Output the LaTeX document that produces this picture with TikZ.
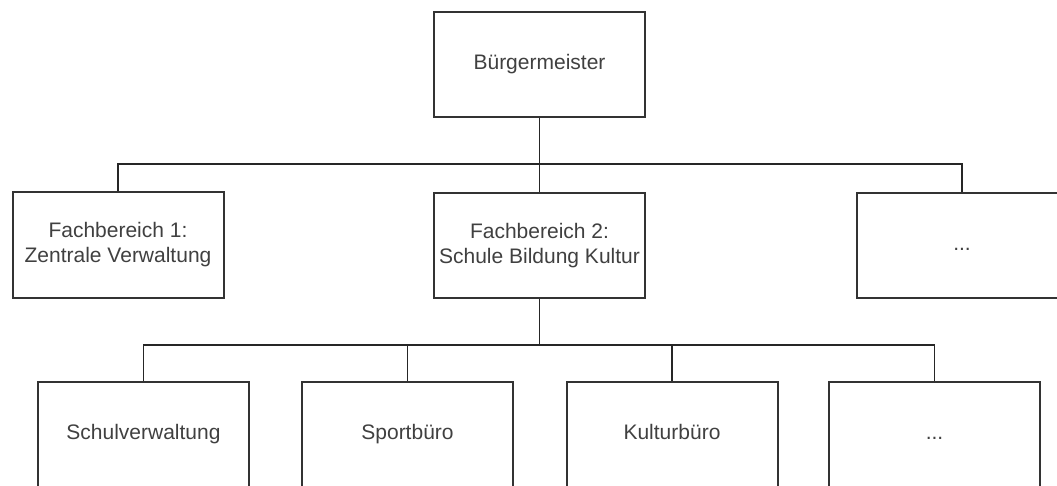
\documentclass[tikz,border=0pt]{standalone}
\usepackage{fontspec}
\setmainfont{Liberation Sans}
\usetikzlibrary{calc}
\tikzset{
  every picture/.style={
    line width=2pt
  },
  unit/.style={
    draw=black!80, rectangle, minimum width=211pt, minimum height=105pt,
    inner sep=0pt, align=center, text=black!75,
    font=\fontsize{21}{25}\selectfont
  },
  oneline/.style={
    unit, text height=15pt, text depth=4.5pt
  },
  link/.style={
    draw=black!85, line width=1.8pt
  }
}

\begin{document}
\begin{tikzpicture}[x=1pt,y=-1pt]
      \useasboundingbox (0,0) rectangle (1057,486);
      \node[oneline] (bgm) at (539.5,64.5) {Bürgermeister};
      \node[unit] (fb1) at (118,245) {Fachbereich 1:\\Zentrale Verwaltung};
      \node[unit] (fb2) at (539.5,245.5) {Fachbereich 2:\\Schule Bildung Kultur};
      \node[oneline] (fbx) at (962,245.5) {...};
      \node[oneline] (schule) at (143.5,434.5) {Schulverwaltung};
      \node[oneline] (sport) at (407.5,434.5) {Sportbüro};
      \node[oneline] (kultur) at (672,434.5) {Kulturbüro};
      \node[oneline] (amtx) at (934.5,434.5) {...};
      \coordinate (top) at (539.5,164);
      \coordinate (low) at (539.5,345);
      \draw[link] (bgm.south) -- (top);
      \foreach \n in {fb1,fb2,fbx}
        \draw[link] (top) -| (\n.north);
      \draw[link] (fb2.south) -- (low);
      \foreach \n in {schule,sport,kultur,amtx}
        \draw[link] (low) -| (\n.north);
    \end{tikzpicture}
\end{document}
